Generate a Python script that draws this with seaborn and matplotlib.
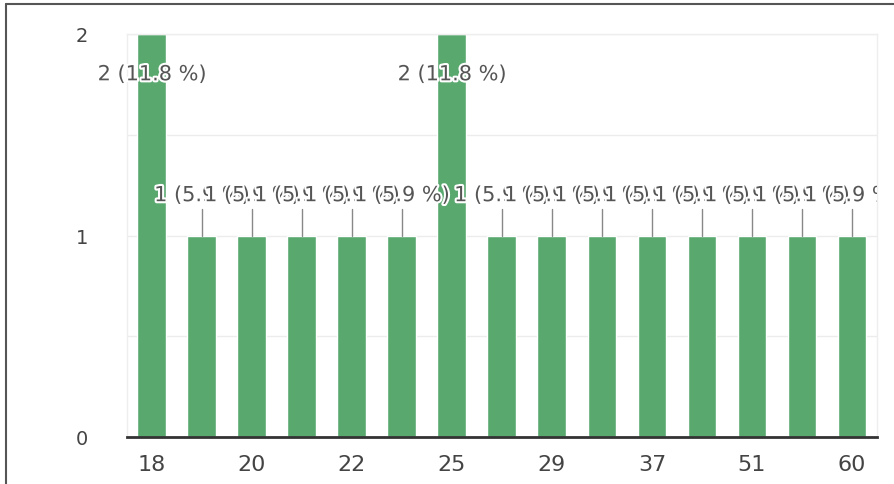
import matplotlib
matplotlib.use("Agg")
import matplotlib.pyplot as plt
import matplotlib.patheffects as pe
from matplotlib.lines import Line2D
from matplotlib.patches import Rectangle
import seaborn as sns
import pandas as pd

# dane
wiek = ["18", "19", "20", "21", "22", "23", "25", "26", "29", "30", "37", "40", "51", "55", "60"]
liczba = [2, 1, 1, 1, 1, 1, 2, 1, 1, 1, 1, 1, 1, 1, 1]
pokazane_etykiety = ["18", "20", "22", "25", "29", "37", "51", "60"]

zielony = "#59a96f"

sns.set_theme(style="white")
plt.rcParams["font.family"] = ["DejaVu Sans"]

df = pd.DataFrame({"wiek": wiek, "liczba": liczba})
suma = sum(liczba)

fig = plt.figure(figsize=(8.95, 4.85), dpi=100)
ax = fig.add_axes([127 / 895, 1 - 438 / 485, 750 / 895, 403 / 485])

sns.barplot(data=df, x="wiek", y="liczba", order=wiek, color=zielony,
            width=0.58, saturation=1, ax=ax)

ax.set_ylim(0, 2)
ax.set_xlim(-0.5, len(wiek) - 0.5)
ax.set_yticks([0, 0.5, 1, 1.5, 2])
ax.set_yticklabels(["0", "", "1", "", "2"])
ax.yaxis.grid(True, color="#ececec", linewidth=1)
ax.set_axisbelow(True)
ax.set_xlabel("")
ax.set_ylabel("")

ax.set_xticks([wiek.index(w) for w in pokazane_etykiety])
ax.set_xticklabels(pokazane_etykiety)
ax.tick_params(axis="x", length=0, pad=12, labelsize=16, labelcolor="#444444")
ax.tick_params(axis="y", length=0, pad=28, labelsize=14, labelcolor="#444444")

for s in ["left", "right", "top"]:
    ax.spines[s].set_color("#eeeeee")
    ax.spines[s].set_linewidth(1)
ax.spines["bottom"].set_color("#333333")
ax.spines["bottom"].set_linewidth(2)

# obszar przycinania etykiet (tylko z prawej strony)
ramka_clip = Rectangle((0, 0), 877 / 895, 1, transform=fig.transFigure)

# etykiety z procentami
for i, n in enumerate(liczba):
    tekst = f"{n} ({n / suma * 100:.1f} %)"
    if n == max(liczba):
        y = n - 0.2
    else:
        y = n + 0.2
        ax.plot([i, i], [n, n + 0.13], color="#888888", linewidth=1, zorder=3)
    t = ax.text(i, y, tekst, ha="center", va="center", fontsize=15,
                color="#555555", zorder=4)
    t.set_clip_path(ramka_clip)
    t.set_clip_on(True)
    t.set_path_effects([pe.withStroke(linewidth=3, foreground="white")])

# ramka dookola
fig.add_artist(Line2D([6 / 895, 1], [1 - 5 / 485, 1 - 5 / 485],
                      transform=fig.transFigure, color="#555555", linewidth=1.5))
fig.add_artist(Line2D([6 / 895, 6 / 895], [0, 1 - 5 / 485],
                      transform=fig.transFigure, color="#555555", linewidth=1.5))

fig.savefig("out.png", dpi=100)
